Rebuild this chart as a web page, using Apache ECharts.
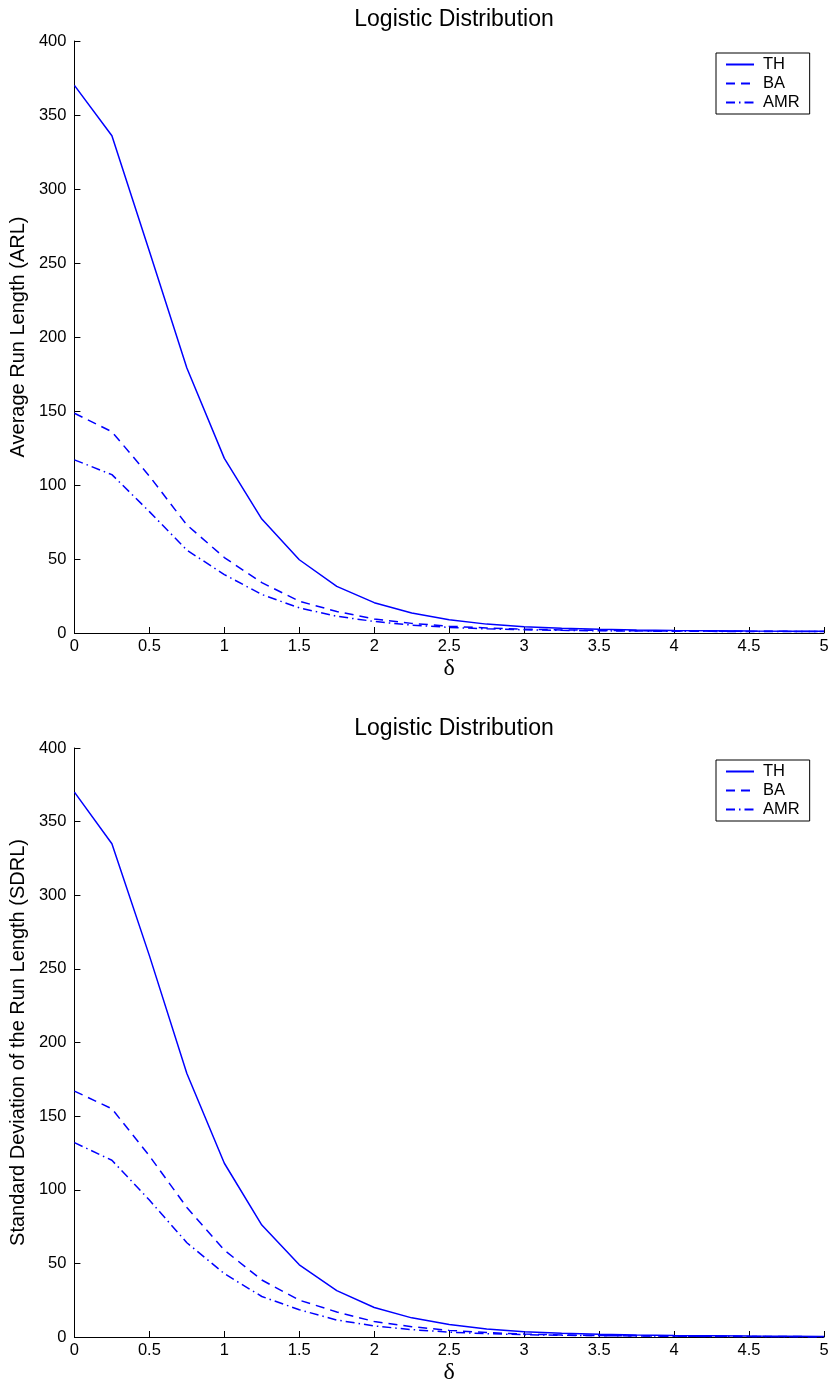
<!DOCTYPE html>
<html>
<head>
<meta charset="utf-8">
<script src="https://cdn.jsdelivr.net/npm/echarts@6/dist/echarts.min.js"></script>
<style>
  html, body { margin: 0; padding: 0; background: #fff; }
  #chart { width: 833px; height: 1386px; }
</style>
</head>
<body>
<div id="chart"></div>
<script>
// Shift sizes (delta) at which run-length statistics were evaluated
const delta = [0, 0.25, 0.5, 0.75, 1, 1.25, 1.5, 1.75, 2, 2.25, 2.5, 2.75, 3, 3.25, 3.5, 3.75, 4, 4.25, 4.5, 4.75, 5];

// Average run length
const arlTH  = [370, 336, 258, 179, 118, 77, 49.5, 31.5, 20.5, 13.5, 9, 6, 4.3, 3.2, 2.5, 2, 1.7, 1.5, 1.3, 1.2, 1.1];
const arlBA  = [148.5, 136, 106, 73, 51, 34, 21.5, 14.5, 9.5, 6.5, 4.6, 3.4, 2.6, 2.1, 1.8, 1.5, 1.35, 1.25, 1.15, 1.1, 1.05];
const arlAMR = [117, 107, 82, 56, 39.5, 26, 17, 11.3, 7.8, 5.3, 3.8, 2.8, 2.2, 1.8, 1.5, 1.3, 1.2, 1.1, 1.05, 1.02, 1.01];

// Standard deviation of the run length
const sdrlTH  = [370, 335, 259, 179, 118, 76, 49, 31.5, 20, 13, 8.5, 5.5, 3.6, 2.5, 1.8, 1.3, 1, 0.8, 0.6, 0.5, 0.4];
const sdrlBA  = [167, 155, 123, 88, 59, 38.7, 25, 17, 10.5, 7, 4.5, 3, 2, 1.4, 1, 0.8, 0.6, 0.5, 0.4, 0.3, 0.2];
const sdrlAMR = [132, 120, 93, 64, 43, 27.5, 18.5, 11.5, 7.5, 5, 3.3, 2.3, 1.6, 1.2, 0.9, 0.7, 0.5, 0.4, 0.3, 0.2, 0.2];

const methods = ['TH', 'BA', 'AMR'];
const dashes = ['solid', [9, 6], [9, 4, 1.5, 4]];
const BLUE = '#0000ff';
const FONT = 'Liberation Sans, Arial, Helvetica, sans-serif';

const pairs = vals => delta.map((d, i) => [d, vals[i]]);

function xAxis(gridIndex) {
  return {
    type: 'value', gridIndex, min: 0, max: 5, interval: 0.5,
    name: 'δ', nameLocation: 'middle', nameGap: 24,
    nameTextStyle: { fontFamily: 'Liberation Serif, DejaVu Serif, serif', fontSize: 24, color: '#000' },
    axisLine: { lineStyle: { color: '#000', width: 1 } },
    axisTick: { inside: true, length: 6, lineStyle: { color: '#000' } },
    axisLabel: { color: '#000', fontFamily: FONT, fontSize: 16.5, margin: 5 },
    splitLine: { show: false }
  };
}
function yAxis(gridIndex, name) {
  return {
    type: 'value', gridIndex, min: 0, max: 400, interval: 50,
    name, nameLocation: 'middle', nameGap: 42,
    nameTextStyle: { fontFamily: FONT, fontSize: 20, color: '#000' },
    axisLine: { show: true, lineStyle: { color: '#000', width: 1 } },
    axisTick: { show: true, inside: true, length: 6, lineStyle: { color: '#000' } },
    axisLabel: { color: '#000', fontFamily: FONT, fontSize: 16.5, margin: 8 },
    splitLine: { show: false }
  };
}
function seriesFor(gridIndex, sets) {
  return sets.map((vals, k) => ({
    type: 'line', name: methods[k],
    xAxisIndex: gridIndex, yAxisIndex: gridIndex,
    data: pairs(vals), symbol: 'none', smooth: false, animation: false,
    lineStyle: { color: BLUE, width: 1.5, type: dashes[k] },
    itemStyle: { color: BLUE }
  }));
}
function legendAt(top) {
  return {
    data: methods, orient: 'vertical', left: 716, top,
    padding: [3, 10, 3, 9],
    borderColor: '#000', borderWidth: 1, backgroundColor: '#fff',
    itemWidth: 28, itemHeight: 14, itemGap: 2,
    itemStyle: { opacity: 0 },
    selectedMode: false,
    textStyle: { fontFamily: FONT, fontSize: 16.5, color: '#000', padding: [0, 0, 0, 4] }
  };
}

const chart = echarts.init(document.getElementById('chart'), null, { renderer: 'canvas' });
chart.setOption({
  backgroundColor: '#fff',
  animation: false,
  title: [
    { text: 'Logistic Distribution', left: 449, top: 3, textAlign: 'center',
      textStyle: { fontFamily: FONT, fontSize: 23, fontWeight: 'normal', color: '#000' } },
    { text: 'Logistic Distribution', left: 449, top: 712, textAlign: 'center',
      textStyle: { fontFamily: FONT, fontSize: 23, fontWeight: 'normal', color: '#000' } }
  ],
  legend: [legendAt(53), legendAt(760)],
  grid: [
    { left: 74, right: 9, top: 41, bottom: 753 },
    { left: 74, right: 9, top: 748, bottom: 46 }
  ],
  xAxis: [xAxis(0), xAxis(1)],
  yAxis: [yAxis(0, 'Average Run Length (ARL)'), yAxis(1, 'Standard Deviation of the Run Length (SDRL)')],
  series: [
    ...seriesFor(0, [arlTH, arlBA, arlAMR]),
    ...seriesFor(1, [sdrlTH, sdrlBA, sdrlAMR])
  ]
});
</script>
</body>
</html>
